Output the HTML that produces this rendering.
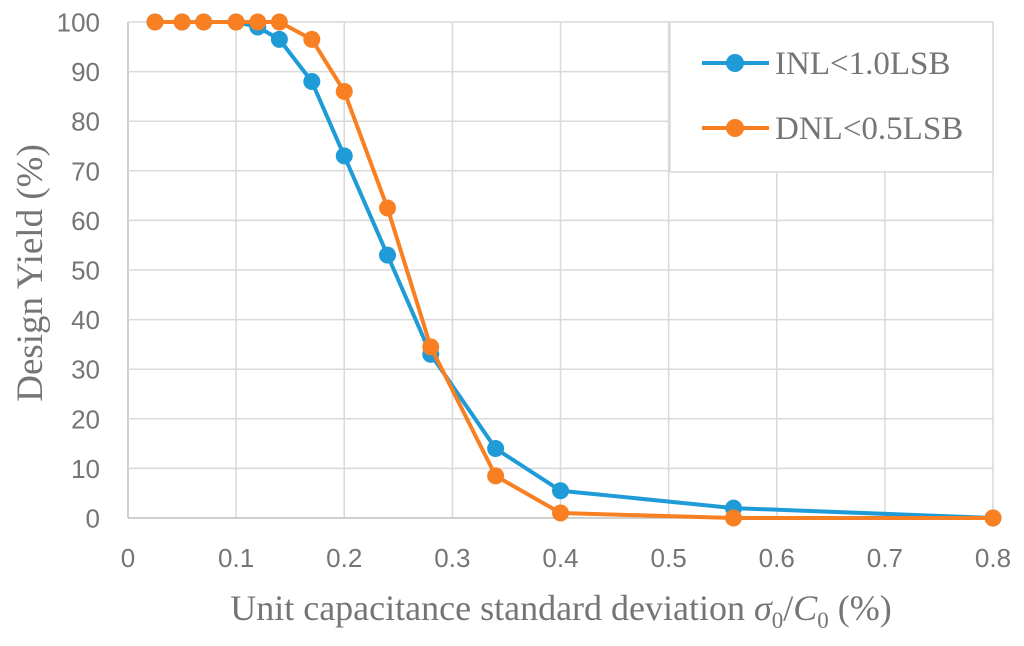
<!DOCTYPE html>
<html><head><meta charset="utf-8"><style>
body{margin:0;background:#fff;width:1024px;height:641px;overflow:hidden}
svg text{fill:#757575}
</style></head><body>
<svg id="chart" width="1024" height="641" xmlns="http://www.w3.org/2000/svg">
<g id="grid"></g>
<g id="ticks"></g>
<rect x="670" y="22" width="323" height="150" fill="#fff" stroke="#d9d9d9" stroke-width="1.5"/>
<g id="series"></g>
<g>
<line x1="702" y1="63" x2="769" y2="63" stroke="#1f9bd7" stroke-width="4"/><circle cx="735" cy="63" r="9" fill="#1f9bd7"/>
<text x="775" y="74" font-family="Liberation Serif, serif" font-size="33">INL&lt;1.0LSB</text></g>
<g>
<line x1="702" y1="128" x2="769" y2="128" stroke="#f98022" stroke-width="4"/><circle cx="735" cy="128" r="9" fill="#f98022"/>
<text x="775" y="139" font-family="Liberation Serif, serif" font-size="33">DNL&lt;0.5LSB</text></g>
<text transform="translate(42,273) rotate(-90)" text-anchor="middle" font-family="Liberation Serif, serif" font-size="37">Design Yield (%)</text>
<text x="561" y="620" text-anchor="middle" font-family="Liberation Serif, serif" font-size="36">Unit capacitance standard deviation <tspan font-style="italic">σ</tspan><tspan font-size="23" dy="8">0</tspan><tspan dy="-8">/</tspan><tspan font-style="italic">C</tspan><tspan font-size="23" dy="8">0</tspan><tspan dy="-8"> (%)</tspan></text>
</svg>
<script>
const xTicks=[0,0.1,0.2,0.3,0.4,0.5,0.6,0.7,0.8];
const yTicks=[0,10,20,30,40,50,60,70,80,90,100];
const xValues=[0.025,0.05,0.07,0.1,0.12,0.14,0.17,0.2,0.24,0.28,0.34,0.4,0.56,0.8];
const inlValues=[100,100,100,100,99,96.5,88,73,53,33,14,5.5,2,0];
const dnlValues=[100,100,100,100,100,100,96.5,86,62.5,34.5,8.5,1,0,0];
const X=v=>128+v*(993-128)/0.8, Y=v=>518-v*(518-22)/100;
const NS='http://www.w3.org/2000/svg';
function mk(t,a,p){const e=document.createElementNS(NS,t);for(const k in a)e.setAttribute(k,a[k]);p.appendChild(e);return e;}
const g=document.getElementById('grid'),tk=document.getElementById('ticks'),s=document.getElementById('series');
xTicks.forEach(v=>{
 const l=mk('line',{x1:X(v),x2:X(v),y1:Y(100),y2:Y(0),stroke:v===0?'#bfbfbf':'#d9d9d9','stroke-width':1.5},g);
 
 
 const t=mk('text',{x:X(v),y:567,'text-anchor':'middle','font-family':'Liberation Sans, sans-serif','font-size':26},tk);
 t.textContent=v;
 
 
});
yTicks.forEach(v=>{
 const l=mk('line',{x1:X(0),x2:X(0.8),y1:Y(v),y2:Y(v),stroke:v===0?'#bfbfbf':'#d9d9d9','stroke-width':1.5},g);
 
 
 const t=mk('text',{x:100,y:Y(v)+9.5,'text-anchor':'end','font-family':'Liberation Sans, sans-serif','font-size':26},tk);
 t.textContent=v;
 
 
});
function draw(vals,color,name){
 const p=mk('polyline',{points:xValues.map((x,i)=>X(x)+','+Y(vals[i])).join(' '),fill:'none',stroke:color,'stroke-width':4,'stroke-linejoin':'round'},s);
 
 
 xValues.forEach((x,i)=>{
  const c=mk('circle',{cx:X(x),cy:Y(vals[i]),r:8.5,fill:color},s);
  
  
 });
}
draw(inlValues,'#1f9bd7','inl');
draw(dnlValues,'#f98022','dnl');
</script>
</body></html>
